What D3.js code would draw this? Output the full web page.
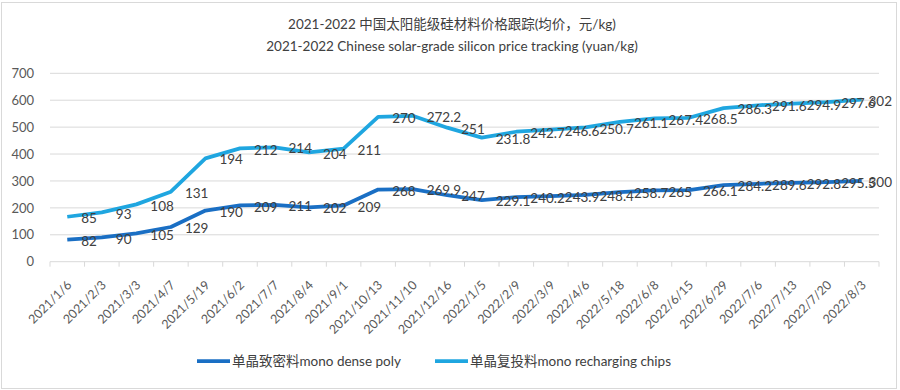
<!DOCTYPE html>
<html>
<head>
<meta charset="utf-8">
<script src="https://cdn.jsdelivr.net/npm/d3@7"></script>
<style>
  html, body { margin: 0; padding: 0; background: #fff; }
  svg { display: block; }
  text { font-family: Lato, "Noto Sans CJK SC", sans-serif; }
</style>
</head>
<body>
<svg id="chart" width="900" height="390"></svg>
<script>
const categories = ["2021/1/6","2021/2/3","2021/3/3","2021/4/7","2021/5/19","2021/6/2","2021/7/7","2021/8/4","2021/9/1","2021/10/13","2021/11/10","2021/12/16","2022/1/5","2022/2/9","2022/3/9","2022/4/6","2022/5/18","2022/6/8","2022/6/15","2022/6/29","2022/7/6","2022/7/13","2022/7/20","2022/8/3"];
const monoDense = [82,90,105,129,190,209,211,202,209,268,269.9,247,229.1,240.2,243.9,248.4,258.7,265,266.1,284.2,289.6,292.8,295.5,300];
const monoRecharging = [85,93,108,131,194,212,214,204,211,270,272.2,251,231.8,242.7,246.6,250.7,261.1,267.4,268.5,286.3,291.6,294.9,297.6,302];
const seriesNames = ["单晶致密料mono dense poly","单晶复投料mono recharging chips"];
const seriesColors = ["#1A6FC4","#1FA6E0"];
const yTicks = [0,100,200,300,400,500,600,700];
const titleLines = ["2021-2022 中国太阳能级硅材料价格跟踪(均价，元/kg)","2021-2022 Chinese solar-grade silicon price tracking (yuan/kg)"];

const svg = d3.select("#chart");
const plot = {left: 50, right: 879, top: 73.3, bottom: 261.7};
const labelLimit = 892;

// outer border
svg.append("rect").attr("x", 1.5).attr("y", 2.5).attr("width", 895).attr("height", 386)
  .attr("fill", "none").attr("stroke", "#d9d9d9").attr("stroke-width", 1);

const x = d3.scaleBand().domain(categories).range([plot.left, plot.right]);
const y = d3.scaleLinear().domain([0, 700]).range([plot.bottom, plot.top]);

// stacked data
const rows = categories.map((c, i) => ({cat: c, dense: monoDense[i], chips: monoRecharging[i]}));
const stacked = d3.stack().keys(["dense","chips"])(rows);

// gridlines
svg.append("g").selectAll("line").data(yTicks.filter(t => t > 0)).join("line")
  .attr("x1", plot.left).attr("x2", plot.right)
  .attr("y1", d => y(d)).attr("y2", d => y(d))
  .attr("stroke", "#d9d9d9").attr("stroke-width", 1);

// y axis labels
const yAxis = d3.axisLeft(y).tickValues(yTicks).tickSize(0).tickPadding(0);
const gy = svg.append("g").attr("transform", `translate(${plot.left - 16},0)`).call(yAxis);
gy.select(".domain").remove();
gy.selectAll("text").attr("font-size", 13).attr("fill", "#595959")
  .attr("font-family", "Lato, sans-serif");

// x axis line and ticks at category boundaries
const boundaries = categories.map(c => x(c)).concat([plot.right]);
svg.append("g").selectAll("line").data(boundaries).join("line")
  .attr("x1", d => d).attr("x2", d => d)
  .attr("y1", plot.bottom).attr("y2", plot.bottom + 5)
  .attr("stroke", "#d9d9d9");
svg.append("line").attr("x1", plot.left).attr("x2", plot.right)
  .attr("y1", plot.bottom).attr("y2", plot.bottom).attr("stroke", "#d9d9d9");

// x labels rotated
svg.append("g").selectAll("text").data(categories).join("text")
  .attr("transform", d => `translate(${x(d) + x.bandwidth()/2 + 2},${plot.bottom + 21}) rotate(-45)`)
  .attr("text-anchor", "end").attr("dy", "0.35em")
  .attr("font-size", 12.5).attr("fill", "#595959")
  .text(d => d);

// lines
const line = d3.line()
  .x(d => x(d.data.cat) + x.bandwidth()/2)
  .y(d => y(d[1]));
stacked.forEach((s, si) => {
  svg.append("path").datum(s)
    .attr("fill", "none").attr("stroke", seriesColors[si]).attr("stroke-width", 3.75)
    .attr("stroke-linejoin", "round").attr("stroke-linecap", "butt")
    .attr("d", line);
});

// data labels (right of point, kept inside chart area)
const valuesBySeries = [monoDense, monoRecharging];
stacked.forEach((s, si) => {
  svg.append("g").selectAll("text").data(s).join("text")
    .attr("x", d => x(d.data.cat) + x.bandwidth()/2 + 14)
    .attr("y", d => y(d[1]) + 1)
    .attr("dy", "0.38em")
    .attr("font-size", 13.5).attr("fill", "#404040")
    .text((d, i) => valuesBySeries[si][i])
    .each(function() {
      const w = this.getComputedTextLength();
      const x0 = +this.getAttribute("x");
      if (x0 + w > labelLimit) this.setAttribute("x", labelLimit - w);
    });
});

// title
svg.append("g").selectAll("text").data(titleLines).join("text")
  .attr("x", 452).attr("y", (d, i) => 29 + i * 22)
  .attr("text-anchor", "middle").attr("font-size", 13.5).attr("fill", "#404040")
  .text(d => d);

// legend
const legendX = [197, 435];
const lg = svg.append("g").selectAll("g").data(seriesNames).join("g")
  .attr("transform", (d, i) => `translate(${legendX[i]},361)`);
lg.append("line").attr("x1", 0).attr("x2", 33).attr("y1", 0).attr("y2", 0)
  .attr("stroke", (d, i) => seriesColors[i]).attr("stroke-width", 3.75);
lg.append("text").attr("x", 35).attr("dy", "0.35em")
  .attr("font-size", 13.5).attr("fill", "#404040").text(d => d);
</script>
</body>
</html>
